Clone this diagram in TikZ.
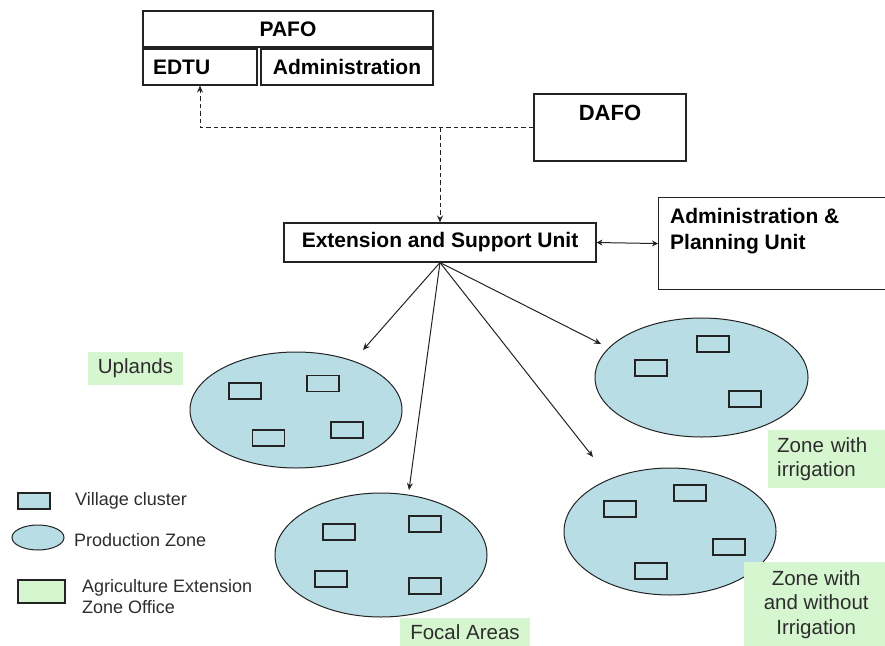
\documentclass[tikz,border=0pt]{standalone}
\usepackage{fontspec}
\setmainfont{Liberation Sans}
\usetikzlibrary{arrows.meta,shapes.geometric}
\definecolor{zoneblue}{RGB}{185,221,229}
\definecolor{aezgreen}{RGB}{214,246,208}
\definecolor{linegray}{RGB}{35,35,35}
\definecolor{txtgray}{RGB}{45,45,45}
\begin{document}
\begin{tikzpicture}[x=1pt,y=-1pt,
  box/.style={draw=linegray, line width=1.1pt, rectangle, inner sep=0pt},
  boldlbl/.style={font=\fontsize{21}{26}\selectfont\bfseries},
  zone/.style={ellipse, draw=linegray, line width=1pt, fill=zoneblue, inner sep=0pt},
  vc/.style={rectangle, draw=linegray, line width=1.1pt, fill=zoneblue, minimum width=32pt, minimum height=16pt, inner sep=0pt},
  aez/.style={rectangle, fill=aezgreen, text=txtgray, font=\fontsize{20.5}{24.5}\selectfont, inner sep=0pt},
  legtext/.style={text=txtgray, font=\fontsize{18}{21}\selectfont, inner sep=0pt, anchor=west},
  link/.style={draw=linegray, line width=1pt, -{Stealth[length=7pt,width=6pt]}},
  dashlink/.style={link, dash pattern=on 4.5pt off 3pt}
]
\useasboundingbox (0,0) rectangle (885,645);
\clip (0,0) rectangle (885,645);

% top boxes
\node[box, minimum width=290pt, minimum height=36pt, boldlbl] (pafo) at (288,29) {PAFO};
\node[box, minimum width=114pt, minimum height=36pt, boldlbl, text width=94pt, inner xsep=10pt, align=left] (edtu) at (200,67) {EDTU};
\node[box, minimum width=172pt, minimum height=36pt, boldlbl] (adm) at (347,67) {Administration};
\node[box, minimum width=152pt, minimum height=67pt] (dafo) at (610,127.5) {};
\node[font=\fontsize{22}{26}\selectfont\bfseries, inner sep=0pt, anchor=north] (dafot) at ([yshift=-11pt]dafo.north) {DAFO};

\node[box, minimum width=312pt, minimum height=39pt, boldlbl] (ext) at (440,242.5) {Extension and Support Unit};
\node[box, minimum width=229pt, minimum height=92pt, anchor=north west] (apu) at (658,197) {};
\node[boldlbl, align=left, anchor=north west, inner sep=0pt] (aput) at ([xshift=12pt,yshift=-11pt]apu.north west) {Administration \&\\Planning Unit};

% connectors
\draw[dashlink] (dafo.west) -| (edtu.south);
\draw[dashlink] (dafo.west -| ext.north) -- (ext.north);
\draw[draw=linegray, line width=1pt, {Stealth[length=6pt,width=6pt]}-{Stealth[length=6pt,width=6pt]}] (ext.east) -- (apu.west);

\coordinate (tU) at (363,350);
\coordinate (tF) at (409,490);
\coordinate (tW) at (593,457);
\coordinate (tI) at (601,344);
\draw[link] (ext.south) -- (tU);
\draw[link] (ext.south) -- (tF);
\draw[link] (ext.south) -- (tW);
\draw[link] (ext.south) -- (tI);

% production zones
\node[zone, minimum width=212pt, minimum height=116pt] (up) at (296,410) {};
\node[zone, minimum width=212pt, minimum height=124pt] (fa) at (381,555) {};
\node[zone, minimum width=213pt, minimum height=119pt] (ir) at (701.5,377.5) {};
\node[zone, minimum width=212pt, minimum height=127pt] (ww) at (670,531.5) {};

% village clusters
\node[vc] (u1) at (245,391) {};
\node[vc] (u2) at (323,383.5) {};
\node[vc] (u3) at (268.5,438) {};
\node[vc] (u4) at (347,430) {};
\node[vc] (f1) at (339,532) {};
\node[vc] (f2) at (425,524) {};
\node[vc] (f3) at (331,579) {};
\node[vc] (f4) at (425,586) {};
\node[vc] (i1) at (651,368) {};
\node[vc] (i2) at (713,344) {};
\node[vc] (i3) at (745,399) {};
\node[vc] (w1) at (620,509) {};
\node[vc] (w2) at (690,493) {};
\node[vc] (w3) at (729,547) {};
\node[vc] (w4) at (651,571) {};

% zone labels
\node[aez, minimum width=95pt, minimum height=33pt] (upl) at (135.5,368.5) {Uplands};
\node[aez, minimum width=130pt, minimum height=28pt] (foc) at (465,632) {Focal Areas};
\node[aez, minimum width=120pt, minimum height=58pt, text width=102pt, inner xsep=9pt, align=left, anchor=north west] (zir) at (768,430) {Zone with\\irrigation};
\node[aez, minimum width=144pt, minimum height=84pt, align=center, anchor=north west] (zww) at (744,562) {Zone with\\and without\\Irrigation};

% legend
\node[vc] (lvc) at (34,501) {};
\node[zone, minimum width=52pt, minimum height=25pt] (lpz) at (38,537.5) {};
\node[rectangle, draw=linegray, line width=1.1pt, fill=aezgreen, minimum width=47pt, minimum height=23pt, inner sep=0pt] (laez) at (41.5,591.5) {};
\node[legtext] (lvct) at (75,501) {Village cluster};
\node[legtext] (lpzt) at (74,540) {Production Zone};
\node[legtext, align=left] (laezt) at (82,597) {Agriculture Extension\\Zone Office};
\end{tikzpicture}
\end{document}
